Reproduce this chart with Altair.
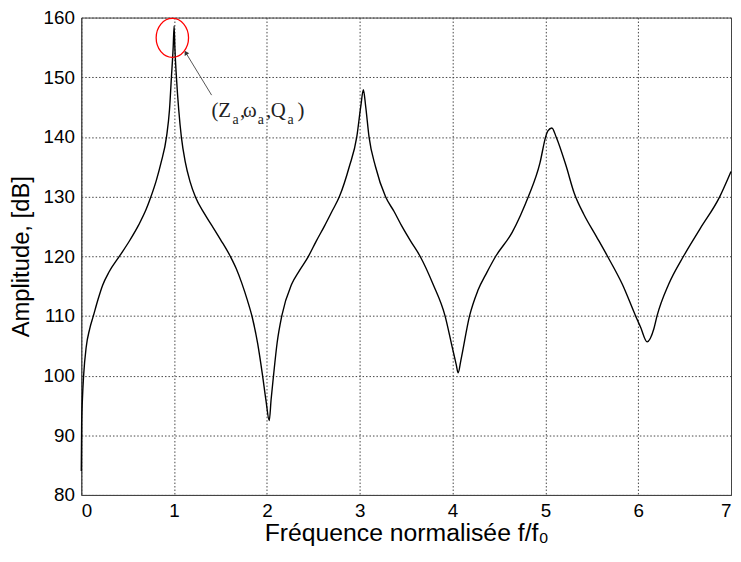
import altair as alt
import pandas as pd

# Curve (normalised frequency, amplitude dB)
freq = [0.0, 0.004, 0.012, 0.025, 0.053, 0.09, 0.13, 0.18, 0.23, 0.30, 0.415, 0.52, 0.62,
        0.70, 0.751, 0.81, 0.858, 0.918, 0.95, 0.971, 0.99, 1.0, 1.008, 1.025, 1.05, 1.078,
        1.12, 1.17, 1.231, 1.32, 1.409, 1.5, 1.605, 1.67, 1.729, 1.79, 1.843, 1.9, 1.953,
        1.99, 2.025, 2.045, 2.071, 2.11, 2.16, 2.266, 2.35, 2.444, 2.53, 2.621, 2.70, 2.781,
        2.887, 2.968, 3.011, 3.039, 3.064, 3.1, 3.17, 3.277, 3.37, 3.455, 3.55, 3.65, 3.79,
        3.919, 3.99, 4.04, 4.06, 4.09, 4.183, 4.271, 4.37, 4.465, 4.642, 4.73, 4.817, 4.941,
        5.003, 5.027, 5.07, 5.116, 5.222, 5.31, 5.415, 5.55, 5.669, 5.829, 5.972, 6.026,
        6.096, 6.168, 6.203, 6.328, 6.488, 6.666, 6.879, 7.0]
amp = [84.0, 92.0, 96.0, 100.0, 104.8, 107.8, 110.0, 112.75, 115.15, 117.4, 120.1, 122.6, 125.3,
       127.9, 130.0, 132.8, 135.6, 140.0, 144.5, 150.0, 155.0, 158.6, 155.0, 150.0, 144.5, 140.0,
       135.8, 132.6, 129.9, 127.3, 125.1, 122.8, 120.0, 117.9, 115.5, 112.6, 109.7, 105.4, 100.0,
       95.8, 92.45, 96.0, 100.0, 105.5, 110.0, 115.3, 117.6, 119.9, 122.5, 125.1, 127.5, 130.0,
       135.0, 140.0, 145.1, 147.9, 145.1, 140.0, 135.0, 130.0, 127.5, 125.0, 122.5, 120.0, 115.3,
       110.0, 105.2, 101.8, 100.45, 102.6, 110.0, 114.2, 117.3, 120.0, 124.0, 126.8, 130.0, 135.6,
       140.0, 141.0, 141.5, 140.0, 135.2, 130.6, 127.0, 123.3, 120.0, 115.3, 110.0, 108.1,
       105.66, 107.8, 110.0, 115.3, 120.0, 124.6, 130.0, 134.2]

x_ticks = [0, 1, 2, 3, 4, 5, 6, 7]
y_ticks = [80, 90, 100, 110, 120, 130, 140, 150, 160]

# Annotation anchors (data units)
ellipse_pt = {"x": [0.981], "y": [156.6]}
arrow_seg = {"x": [1.404], "y": [147.0], "x2": [1.13], "y2": [154.0]}
label_pt = {"x": [1.404], "y": [143.3]}
# (text, dx, dy, size)
label_pieces = [("(", 0, 0, 21), ("Z", 6.7, 0, 21), ("a", 21, 7, 14), (",", 28.7, 0, 21),
                ("ω", 31.7, 0, 21), ("a", 46.7, 7, 14), (",", 55, 0, 21), ("Q", 59.7, 0, 21),
                ("a", 76.7, 7, 14), (")", 86.7, 0, 21)]

df = pd.DataFrame({"f": freq, "dB": amp})

xs = alt.Scale(domain=[0, 7], nice=False)
ys = alt.Scale(domain=[80, 160], nice=False)

grid_axis = dict(
    gridDash=[1.5, 2], gridColor="#444", gridOpacity=1, gridWidth=1,
    domainColor="#444", tickSize=0, labelColor="black", format="d",
    labelFont="Liberation Sans", labelFontSize=19,
    titleFont="Liberation Sans", titleFontWeight="normal",
    titleColor="black",
)

line = alt.Chart(df).mark_line(color="black", strokeWidth=1.4, interpolate="monotone").encode(
    x=alt.X("f:Q", scale=xs, axis=alt.Axis(values=x_ticks, title="Fréquence normalisée f/f₀",
                                           labelPadding=7, titlePadding=0, titleFontSize=25,
                                           **grid_axis)),
    y=alt.Y("dB:Q", scale=ys, axis=alt.Axis(values=y_ticks, title="Amplitude, [dB]",
                                            labelPadding=7, titlePadding=10, titleFontSize=24,
                                            **grid_axis)),
)

ellipse = alt.Chart(pd.DataFrame(ellipse_pt)).mark_point(
    shape="M -0.83 0 A 0.83 1 0 1 0 0.83 0 A 0.83 1 0 1 0 -0.83 0 Z",
    size=1552, color="red", strokeWidth=1.3, filled=False, opacity=1,
).encode(x=alt.X("x:Q", scale=xs), y=alt.Y("y:Q", scale=ys))

arrow = alt.Chart(pd.DataFrame(arrow_seg)).mark_rule(color="#555", strokeWidth=1).encode(
    x=alt.X("x:Q", scale=xs), y=alt.Y("y:Q", scale=ys), x2="x2:Q", y2="y2:Q")

head = alt.Chart(pd.DataFrame(arrow_seg)).mark_point(
    shape="triangle", size=28, filled=True, color="#333", angle=329.5, opacity=1,
).encode(x=alt.X("x2:Q", scale=xs), y=alt.Y("y2:Q", scale=ys))

texts = []
for t, dx, dy, sz in label_pieces:
    texts.append(alt.Chart(pd.DataFrame(label_pt)).mark_text(
        text=t, dx=dx, dy=dy, align="left", baseline="alphabetic",
        font="Liberation Serif", fontSize=sz, color="#222",
    ).encode(x=alt.X("x:Q", scale=xs), y=alt.Y("y:Q", scale=ys)))

chart = alt.layer(line, arrow, head, ellipse, *texts).properties(
    width=656, height=482,
    autosize=alt.AutoSizeParams(type="none"),
    padding={"left": 74, "top": 7, "right": 2, "bottom": 60},
).configure_view(stroke="#444", strokeWidth=1)

chart.save("out.html", embed_options={"renderer": "svg", "actions": False})
